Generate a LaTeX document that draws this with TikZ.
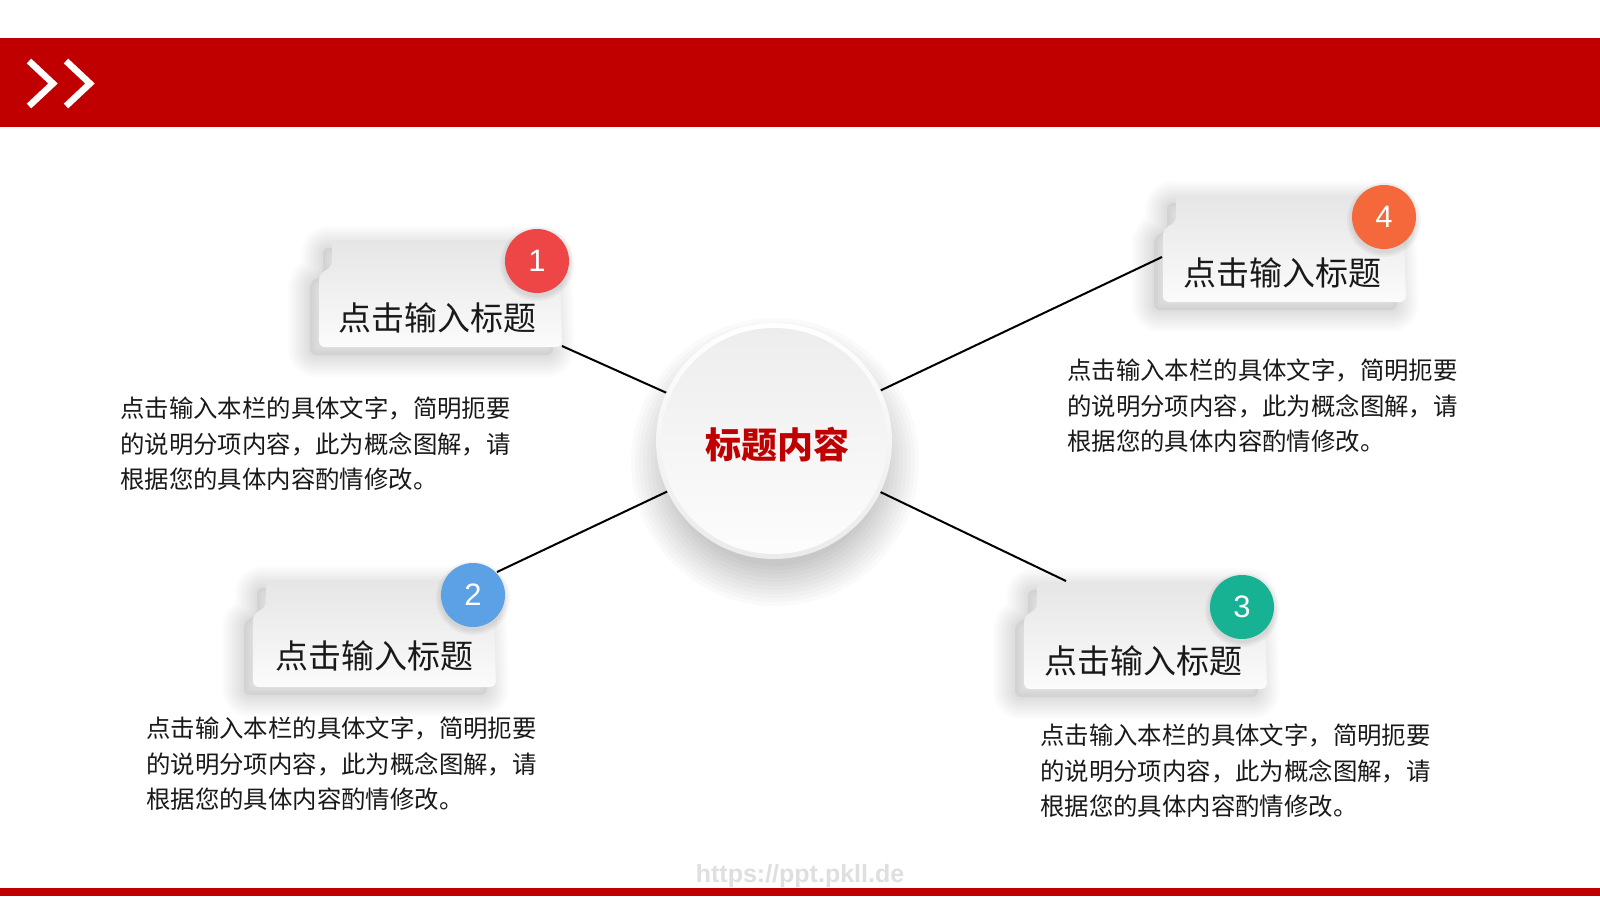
\documentclass[tikz,border=0pt]{standalone}
\usepackage{fontspec}
\setmainfont{Liberation Sans}
\newfontfamily\cjk{Noto Sans CJK SC}
\definecolor{bannerred}{HTML}{C00000}
\definecolor{badgeA}{HTML}{EE4646}
\definecolor{badgeB}{HTML}{5CA0E6}
\definecolor{badgeC}{HTML}{17B294}
\definecolor{badgeD}{HTML}{F4683C}
\definecolor{titlered}{HTML}{C00000}
\pgfdeclarelayer{back}
\pgfdeclarelayer{links}
\pgfsetlayers{back,links,main}
\tikzset{
  cardshape/.style={rounded corners=6pt, top color=gray!20, bottom color=gray!3},
  shadowstroke/.style={draw=black, draw opacity=0.013, line join=round, rounded corners=6pt},
  shadowfill/.style={fill=black, fill opacity=0.05, rounded corners=6pt},
  cardtitle/.style={font=\cjk\fontsize{33}{33}\selectfont, text=black!90, inner sep=0pt},
  badge/.style={circle, minimum size=64pt, inner sep=0pt, text=white,
    font=\fontsize{31}{31}\selectfont},
  desc/.style={anchor=north west, inner sep=0pt, align=left, text=black!90,
    font=\cjk\fontsize{24.4}{35.5}\selectfont},
  link/.style={draw=black, line width=2pt},
  hubrim/.style={circle, minimum size=236pt, inner sep=0pt, top color=white, bottom color=gray!16},
  hubface/.style={circle, minimum size=226pt, inner sep=0pt, top color=gray!14, bottom color=gray!2},
  hubtitle/.style={text=titlered, font=\cjk\bfseries\fontsize{36}{36}\selectfont, inner sep=0pt},
  chev/.style={draw=white, line width=6.5pt, miter limit=10},
}
\newcommand\cardoutline[2]{(#1+13,#2) -- (#1+240,#2) -- (#1+243,#2+107) -- (#1,#2+107) -- (#1,#2+34) -- (#1+13,#2+27) -- cycle}
\newcommand\cardat[2]{%
  \begin{scope}[shift={(-9,8)}]
    \foreach \w in {4,8,...,44} {\path[shadowstroke, line width=\w pt] \cardoutline{#1}{#2};}
    \path[shadowfill] \cardoutline{#1}{#2};
  \end{scope}
  \path[cardshape] \cardoutline{#1}{#2};}
\begin{document}
\begin{tikzpicture}[x=1pt,y=-1pt]
\useasboundingbox (0,0) rectangle (1600,900);
\begin{pgfonlayer}{back}
  \fill[white] (0,0) rectangle (1600,900);
  \fill[bannerred] (0,38) rectangle (1600,127);
  \fill[bannerred] (0,888) rectangle (1600,896);
  \draw[chev] (29,61) -- (53,83.5) -- (29,106);
  \draw[chev] (66,61) -- (90,83.5) -- (66,106);
\end{pgfonlayer}
\node[font=\bfseries\fontsize{25}{25}\selectfont, text=gray!25] (wm) at (800,876) {https://ppt.pkll.de};

% cards
\cardat{319}{240}
\cardat{253}{580}
\cardat{1024}{582}
\cardat{1163}{195}

\node[cardtitle] (t1) at (437,318) {点击输入标题};
\node[cardtitle] (t2) at (374,656) {点击输入标题};
\node[cardtitle] (t3) at (1143,661) {点击输入标题};
\node[cardtitle] (t4) at (1282,273) {点击输入标题};

\foreach \p in {(537,261),(473,595),(1242,607),(1384,217)} {
  \begin{scope}[shift={(0,3)}]
    \foreach \r in {33,35,37} {\fill[black, fill opacity=0.035] \p circle (\r);}
  \end{scope}
}
\node[badge, fill=badgeA] (b1) at (537,261) {1};
\node[badge, fill=badgeB] (b2) at (473,595) {2};
\node[badge, fill=badgeC] (b3) at (1242,607) {3};
\node[badge, fill=badgeD] (b4) at (1384,217) {4};

\node[desc] (d1) at (120,397) {点击输入本栏的具体文字，简明扼要\\的说明分项内容，此为概念图解，请\\根据您的具体内容酌情修改。};
\node[desc] (d2) at (146,717) {点击输入本栏的具体文字，简明扼要\\的说明分项内容，此为概念图解，请\\根据您的具体内容酌情修改。};
\node[desc] (d3) at (1040,724) {点击输入本栏的具体文字，简明扼要\\的说明分项内容，此为概念图解，请\\根据您的具体内容酌情修改。};
\node[desc] (d4) at (1067,359) {点击输入本栏的具体文字，简明扼要\\的说明分项内容，此为概念图解，请\\根据您的具体内容酌情修改。};

% hub shadow
\foreach \r in {104,108,...,144} {\fill[black, fill opacity=0.02] (775,462) circle (\r);}
% hub
\node[hubrim] (hub) at (774,441) {};
\node[hubface] (face) at (hub) {};
\node[hubtitle] (ht) at ([xshift=3pt,yshift=-4pt]hub.center) {标题内容};

\coordinate (e1) at (562,346);
\coordinate (e2) at (497,572);
\coordinate (e3) at (1066,581);
\coordinate (e4) at (1162,257);
\begin{pgfonlayer}{links}
  \draw[link] (hub.center) -- (e1);
  \draw[link] (hub.center) -- (e2);
  \draw[link] (hub.center) -- (e3);
  \draw[link] (hub.center) -- (e4);
\end{pgfonlayer}
\end{tikzpicture}
\end{document}
